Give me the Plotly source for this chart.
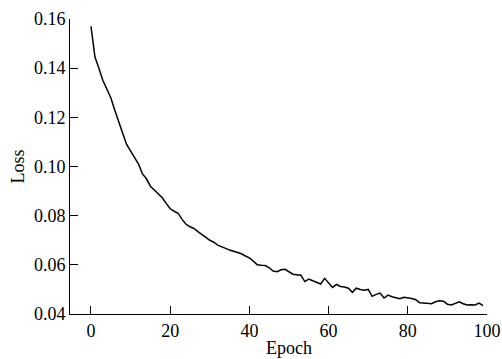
import plotly.graph_objects as go

epochs = list(range(100))
loss = [
    0.157, 0.1445, 0.140, 0.135, 0.1315, 0.128, 0.123, 0.118, 0.1135, 0.109,
    0.1065, 0.104, 0.101, 0.097, 0.095, 0.092, 0.0905, 0.089, 0.0873, 0.085,
    0.0828, 0.0818, 0.081, 0.0785, 0.0765, 0.0755, 0.0748, 0.0735, 0.0725, 0.0712,
    0.070, 0.0692, 0.068, 0.0675, 0.0667, 0.066, 0.0655, 0.0649, 0.0645, 0.0636,
    0.0628, 0.0615, 0.0600, 0.0598, 0.0597, 0.0588, 0.0575, 0.0572, 0.0580, 0.0582,
    0.0572, 0.0562, 0.0560, 0.0558, 0.0532, 0.0542, 0.0535, 0.0530, 0.0522, 0.0545,
    0.0525, 0.0508, 0.0520, 0.0512, 0.0510, 0.0505, 0.0488, 0.0505, 0.0500, 0.0497,
    0.0500, 0.0472, 0.0480, 0.0485, 0.0465, 0.0477, 0.0470, 0.0467, 0.0462, 0.0468,
    0.0466, 0.0463, 0.0458, 0.0446, 0.0445, 0.0443, 0.0442, 0.0450, 0.0454, 0.0452,
    0.0440, 0.0437, 0.0445, 0.0450, 0.0442, 0.0437, 0.0438, 0.0437, 0.0444, 0.0434,
]
x_ticks = [0, 20, 40, 60, 80, 100]
y_ticks = [0.04, 0.06, 0.08, 0.10, 0.12, 0.14, 0.16]
y_tick_labels = ["0.04", "0.06", "0.08", "0.10", "0.12", "0.14", "0.16"]

font = dict(family="Liberation Serif, Times New Roman, serif", size=18, color="black")

fig = go.Figure(go.Scatter(x=epochs, y=loss, mode="lines",
                           line=dict(color="black", width=1.5), showlegend=False))

axis_common = dict(showline=True, linecolor="black", linewidth=1, mirror=False,
                   ticks="inside", ticklen=8, tickwidth=1, tickcolor="black",
                   showgrid=False, zeroline=False, tickfont=font, automargin=False)

fig.update_xaxes(range=[-5.3, 100], tickvals=x_ticks, **axis_common)
fig.update_yaxes(range=[0.04, 0.16], tickvals=y_ticks, ticktext=y_tick_labels, **axis_common)

fig.add_annotation(text="Epoch", x=50, xref="x", y=0, yref="paper", yanchor="middle",
                   yshift=-34, showarrow=False, font=font)
fig.add_annotation(text="Loss", textangle=-90, x=0, xref="paper", xanchor="center",
                   xshift=-53, y=0.5, yref="paper", yanchor="middle",
                   showarrow=False, font=font)

fig.update_layout(width=502, height=359, margin=dict(l=70, r=15, t=19, b=45),
                  plot_bgcolor="white", paper_bgcolor="white", font=font,
                  hovermode=False)

fig.write_html("out.html", config={"displayModeBar": False, "staticPlot": True},
               post_script="document.body.style.margin='0';document.body.style.overflow='hidden';")
